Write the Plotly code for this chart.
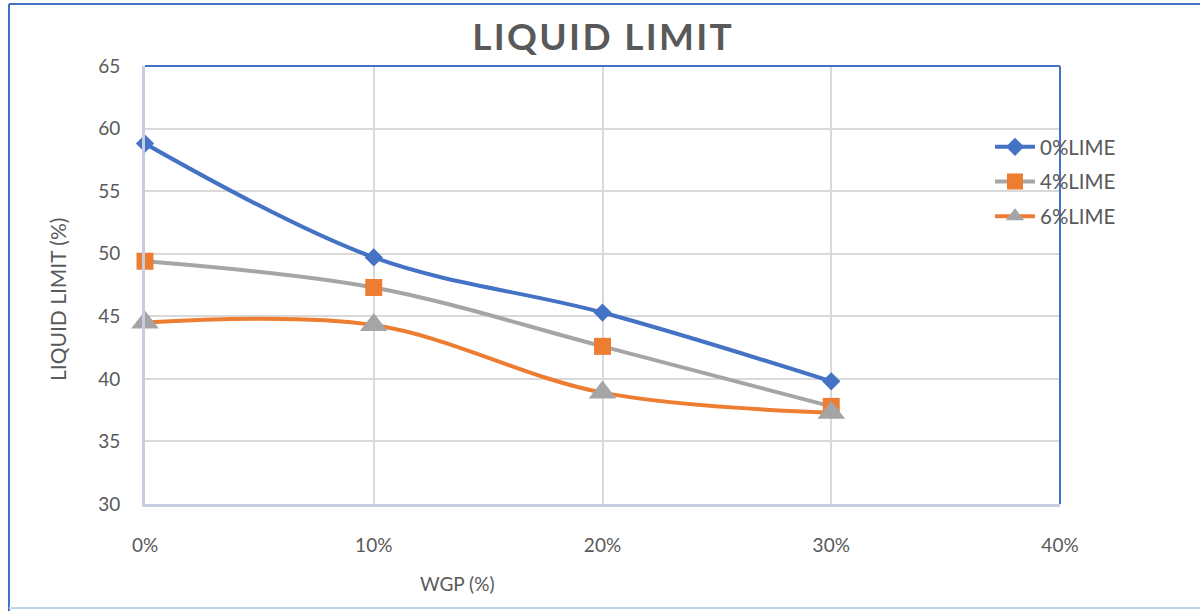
import plotly.graph_objects as go

# WGP content (fraction) and measured liquid limits
wgp = [0.0, 0.10, 0.20, 0.30]
lime_0 = [58.8, 49.7, 45.3, 39.8]
lime_4 = [49.4, 47.3, 42.6, 37.8]
lime_6 = [44.5, 44.3, 38.9, 37.3]
series_names = ["0%LIME", "4%LIME", "6%LIME"]

x_ticks = [0.0, 0.1, 0.2, 0.3, 0.4]
y_ticks = [30, 35, 40, 45, 50, 55, 60, 65]

BLUE = "#4472C4"
ORANGE = "#ED7D31"
GREY = "#A5A5A5"
TEXT = "#595959"
FONT = "Lato"

fig = go.Figure()

fig.add_trace(go.Scatter(
    x=wgp, y=lime_0, name=series_names[0], mode="lines+markers", legendgroup="a",
    line=dict(color=BLUE, width=4, shape="spline", smoothing=1),
    marker=dict(symbol="diamond", size=14, color=BLUE), cliponaxis=False,
))
fig.add_trace(go.Scatter(
    x=wgp, y=lime_4, name=series_names[1], mode="lines+markers", legendgroup="b",
    line=dict(color=GREY, width=4, shape="spline", smoothing=1),
    marker=dict(symbol="square", size=17, color=ORANGE), cliponaxis=False,
))
fig.add_trace(go.Scatter(
    x=wgp, y=lime_6, name=series_names[2], mode="lines+markers", legendgroup="c",
    line=dict(color=ORANGE, width=4, shape="spline", smoothing=1),
    marker=dict(symbol="triangle-up", size=24, color=GREY), cliponaxis=False,
))

L, R, T, B = 145, 140, 66, 107
W, H = 1200, 611
pw, ph = W - L - R, H - T - B

def px_x(p):
    return (p - L) / pw

def px_y(p):
    return (H - B - p) / ph

# title with slight tracking between letters
title_text = "\u200a".join("LIQUID LIMIT")

fig.update_layout(
    width=W, height=H,
    margin=dict(l=L, r=R, t=T, b=B),
    paper_bgcolor="white", plot_bgcolor="white",
    font=dict(family=FONT, color=TEXT, size=17),
    title=dict(
        text=f"<b>{title_text}</b>",
        x=px_x(602), xanchor="center", xref="paper",
        y=1 - 37 / H, yanchor="middle",
        font=dict(family=FONT, size=37, color=TEXT),
    ),
    showlegend=True,
    legend=dict(
        x=px_x(990), y=px_y(127), xanchor="left", yanchor="top",
        font=dict(family=FONT, size=20.5, color=TEXT),
        bgcolor="rgba(0,0,0,0)", itemwidth=40, tracegroupgap=5,
    ),
    xaxis=dict(
        range=[0, 0.4], tickvals=x_ticks, tickformat=".0%",
        showgrid=True, gridcolor="#D9D9D9", gridwidth=1.5,
        zeroline=False, showline=True, linecolor="#C5CEDF", linewidth=3,
        ticks="", ticklabelstandoff=22,
        tickfont=dict(family=FONT, size=19, color=TEXT),
    ),
    yaxis=dict(
        range=[30, 65], tickvals=y_ticks,
        showgrid=True, gridcolor="#D9D9D9", gridwidth=1.5,
        zeroline=False, showline=True, linecolor="#C5CEDF", linewidth=3,
        ticks="", ticklabelstandoff=18,
        tickfont=dict(family=FONT, size=19, color=TEXT),
    ),
    annotations=[
        dict(text="WGP (%)", x=px_x(457), y=px_y(583), xref="paper", yref="paper",
             xanchor="center", yanchor="middle",
             showarrow=False, font=dict(family=FONT, size=19, color=TEXT)),
        dict(text="LIQUID LIMIT (%)", x=px_x(57), y=px_y(300), xref="paper", yref="paper",
             xanchor="center", yanchor="middle",
             showarrow=False, textangle=-90, font=dict(family=FONT, size=21, color=TEXT)),
    ],
    shapes=[
        # plot area top and right edges
        dict(type="line", xref="paper", yref="paper", x0=0, x1=1, y0=1, y1=1,
             line=dict(color=BLUE, width=2)),
        dict(type="line", xref="paper", yref="paper", x0=1, x1=1, y0=0, y1=1,
             line=dict(color=BLUE, width=2)),
        # chart frame
        dict(type="line", xref="paper", yref="paper", x0=px_x(9), x1=px_x(9),
             y0=px_y(611), y1=px_y(4), line=dict(color=BLUE, width=2)),
        dict(type="line", xref="paper", yref="paper", x0=px_x(9), x1=px_x(1200),
             y0=px_y(4), y1=px_y(4), line=dict(color=BLUE, width=2)),
        dict(type="line", xref="paper", yref="paper", x0=px_x(9), x1=px_x(1200),
             y0=px_y(608), y1=px_y(608), line=dict(color="#BDD7EE", width=2)),
    ],
)

fig.write_html("out.html")
